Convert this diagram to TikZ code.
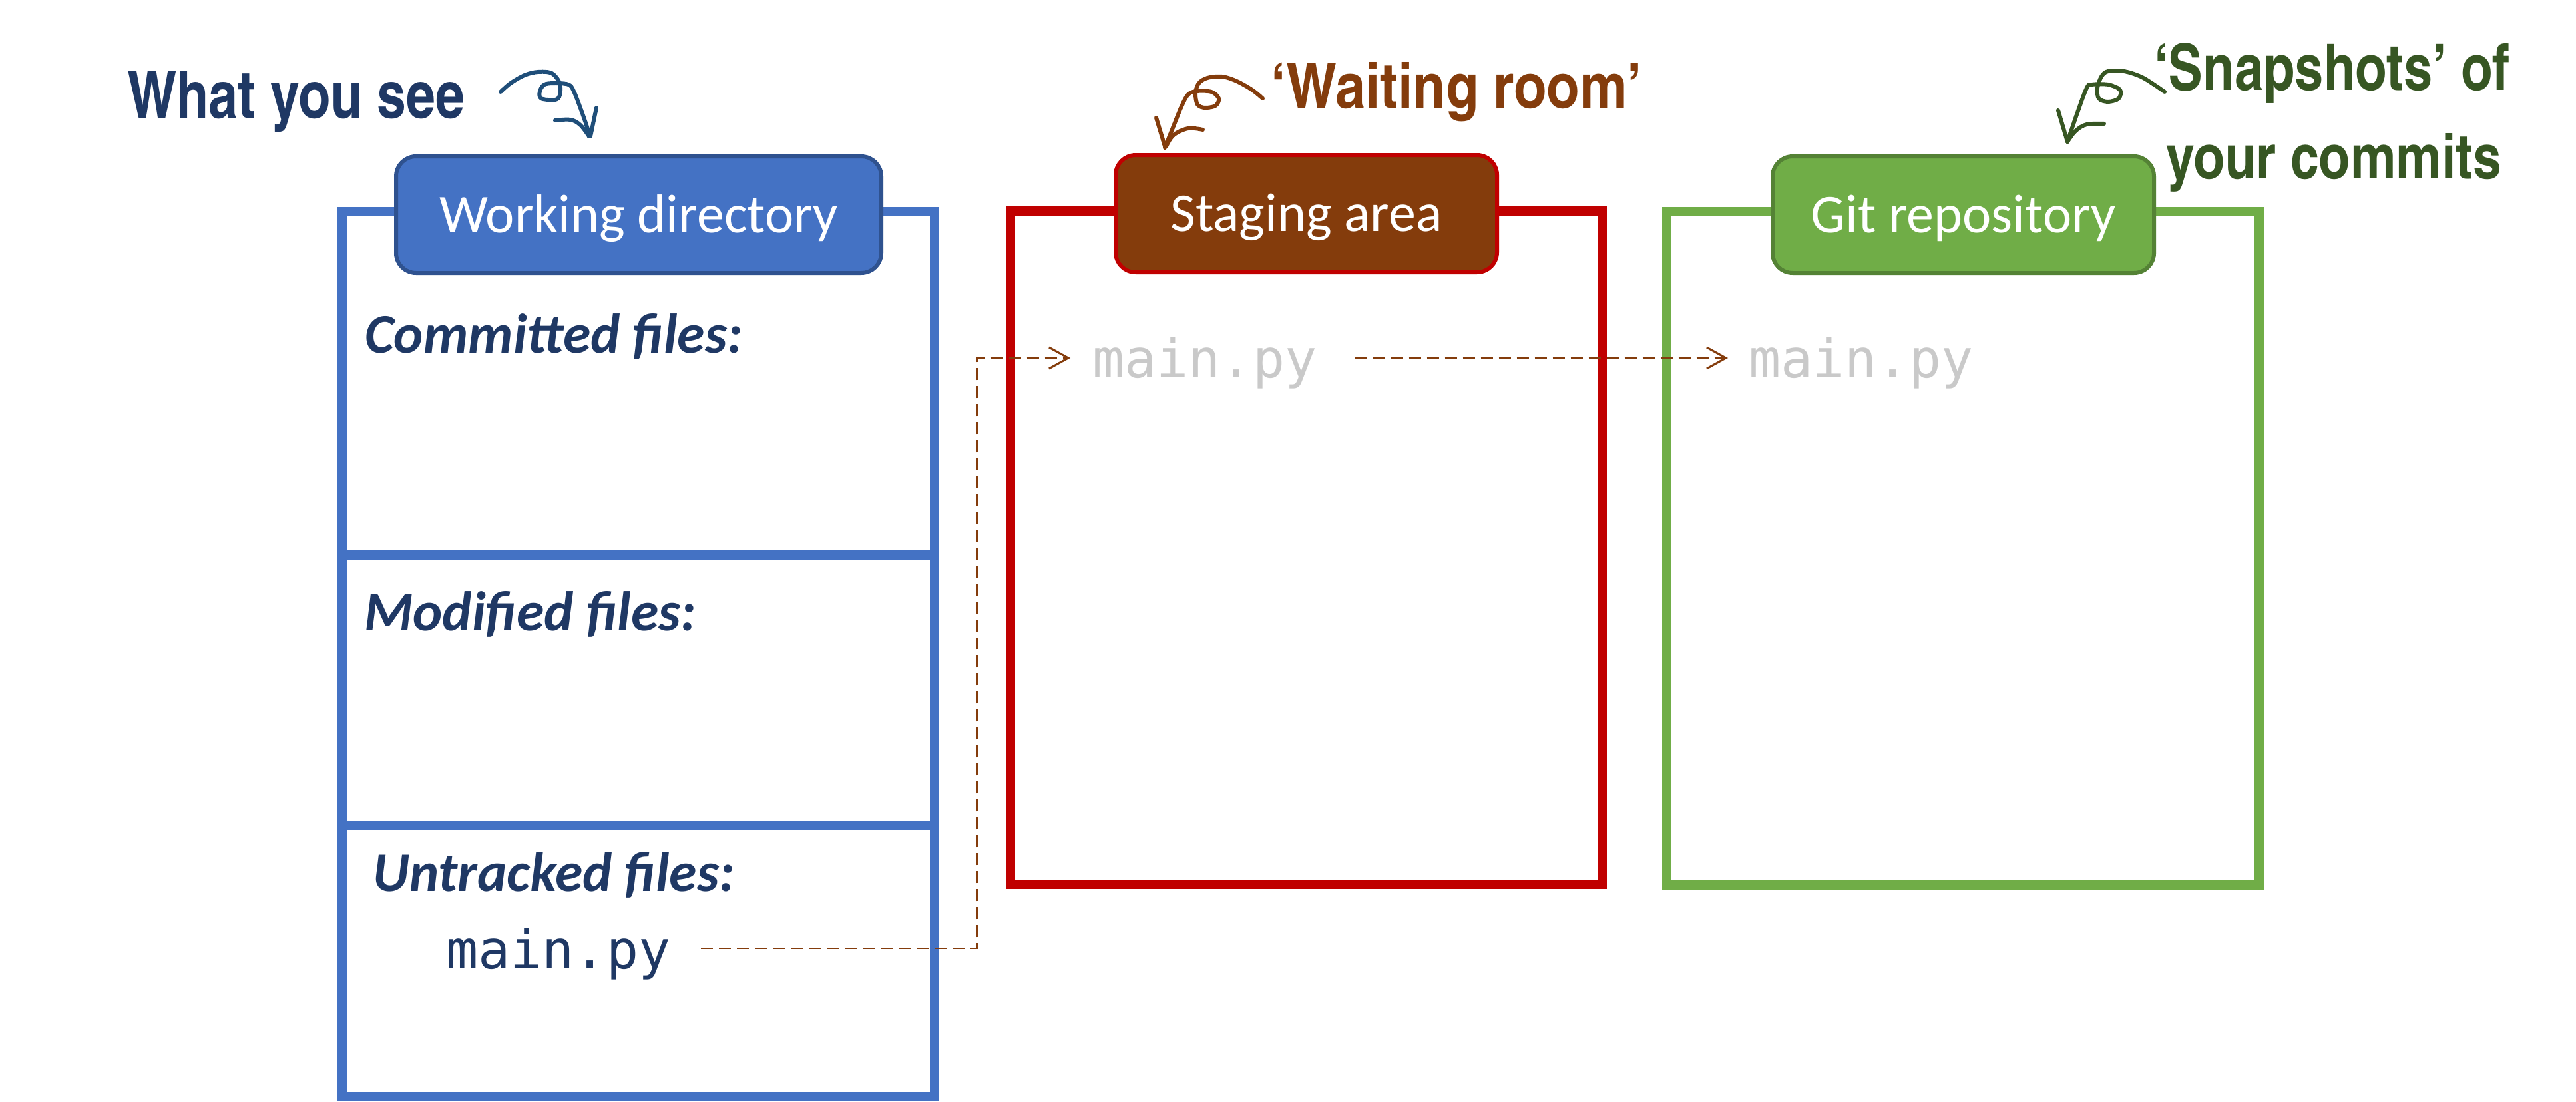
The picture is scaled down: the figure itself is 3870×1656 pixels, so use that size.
\documentclass[tikz,border=0pt]{standalone}
\usepackage{fontspec}
\setmainfont{Carlito}
\newfontfamily\filefont{DejaVu Sans Mono}
\newfontfamily\headfont{texgyreheroscn-bold.otf}
\usetikzlibrary{arrows.meta}
\definecolor{wdblue}{HTML}{4472C4}
\definecolor{wdedge}{HTML}{2F528F}
\definecolor{navy}{HTML}{1F3864}
\definecolor{inkblue}{HTML}{1F4E79}
\definecolor{stred}{HTML}{C00000}
\definecolor{stbrown}{HTML}{843C0C}
\definecolor{gitgreen}{HTML}{70AD47}
\definecolor{gitedge}{HTML}{548235}
\definecolor{darkgreen}{HTML}{375623}
\definecolor{ghost}{HTML}{C9C9C9}
\begin{document}
\begin{tikzpicture}[x=1pt,y=-1pt,
  bigbox/.style={line width=14pt},
  tag/.style={rounded corners=30pt, line width=6pt, text=white, inner sep=0pt,
    text height=53pt, text depth=0pt,
    font=\fontsize{82pt}{98pt}\selectfont},
  section/.style={anchor=base west, inner sep=0pt, text=navy,
    font=\fontsize{84pt}{100pt}\selectfont\bfseries\itshape},
  file/.style={anchor=base west, inner sep=0pt, font=\filefont\fontsize{80pt}{96pt}\selectfont},
  flow/.style={draw=stbrown, line width=2.5pt, dash pattern=on 18pt off 9pt,
    -{Straight Barb[length=29pt,width=32pt,line width=3pt]}},
  scribble/.style={line width=6pt, line cap=round, line join=round},
  heading/.style={anchor=base west, inner sep=0pt}]
\useasboundingbox (0,0) rectangle (3870,1656);
\fill[white] (0,0) rectangle (3870,1656);

% big containers
\draw[bigbox, draw=wdblue] (514,318) rectangle (1404,834);
\draw[bigbox, draw=wdblue] (514,834) rectangle (1404,1241);
\draw[bigbox, draw=wdblue] (514,1241) rectangle (1404,1648);
\draw[bigbox, draw=stred] (1518,317) rectangle (2407,1329);
\draw[bigbox, draw=gitgreen] (2504,318) rectangle (3394,1330);

% tags
\node[tag, fill=wdblue, draw=wdedge, minimum width=729pt, minimum height=175pt] (wdl) at (959.5,322.5) {Working directory};
\node[tag, fill=stbrown, draw=stred, minimum width=573pt, minimum height=176pt] (stl) at (1962.5,321) {Staging area};
\node[tag, fill=gitgreen, draw=gitedge, minimum width=573pt, minimum height=175pt] (gitl) at (2949.5,322.5) {Git repository};

% sections
\node[section] (comm) at (548,530) {Committed files:};
\node[section] (modi) at (547,947) {Modified files:};
\node[section] (untr) at (560,1339) {Untracked files:};

% files
\node[file, text=navy] (mp1) at (670,1455) {main.py};
\node[file, text=ghost] (mp2) at (1641,567) {main.py};
\node[file, text=ghost] (mp3) at (2627,567) {main.py};

% flows
\coordinate (b1) at (1468,1425);
\coordinate (b2) at (1468,538);
\draw[flow] ([xshift=45pt]mp1.east |- b1) -- (b1) -- (b2) -- ([xshift=-33pt]mp2.west |- b2);
\draw[flow] ([xshift=57pt]mp2.east |- b2) -- ([xshift=-31pt]mp3.west |- b2);

% headings
\node[heading, text=navy] (see) at (191,178) {\resizebox{507pt}{71pt}{\headfont What you see}};
\node[heading, text=stbrown] (wait) at (1909,163) {\resizebox{558pt}{69pt}{\headfont ‘Waiting room’}};
\node[heading, text=darkgreen] (snap) at (3236,136) {\resizebox{534pt}{71pt}{\headfont ‘Snapshots’ of}};
\node[heading, text=darkgreen] (comms) at (3254,268) {\resizebox{504pt}{68pt}{\headfont your commits}};

% hand-drawn arrows
\draw[scribble, draw=inkblue] plot[smooth, tension=0.55] coordinates {(752,138) (767,125) (788,113) (808,108) (829,110) (841,125) (841,143) (834,150) (813,148) (811,137) (818,127) (834,125) (854,127) (862,137) (874,168) (885,200) (885,205)};
\draw[scribble, draw=inkblue] (896,162) -- (887,205);
\draw[scribble, draw=inkblue] plot[smooth, tension=0.6] coordinates {(834,181) (857,180) (872,188) (885,205)};

\draw[scribble, draw=stbrown] plot[smooth, tension=0.55] coordinates {(1897,148) (1881,135) (1858,122) (1836,115) (1814,117) (1801,125) (1796,140) (1799,157) (1810,162) (1826,159) (1831,148) (1820,138) (1798,137) (1785,142) (1775,160) (1762,192) (1750,222)};
\draw[scribble, draw=stbrown] (1737,177) -- (1750,220);
\draw[scribble, draw=stbrown] plot[smooth, tension=0.6] coordinates {(1807,195) (1785,193) (1763,203) (1752,220)};

\draw[scribble, draw=darkgreen] plot[smooth, tension=0.55] coordinates {(3252,138) (3236,127) (3216,115) (3191,107) (3167,107) (3157,115) (3151,132) (3153,148) (3167,153) (3183,148) (3185,135) (3167,127) (3143,127) (3135,132) (3120,172) (3106,213)};
\draw[scribble, draw=darkgreen] (3092,166) -- (3106,213);
\draw[scribble, draw=darkgreen] plot[smooth, tension=0.6] coordinates {(3161,186) (3135,187) (3118,197) (3106,213)};
\end{tikzpicture}
\end{document}
